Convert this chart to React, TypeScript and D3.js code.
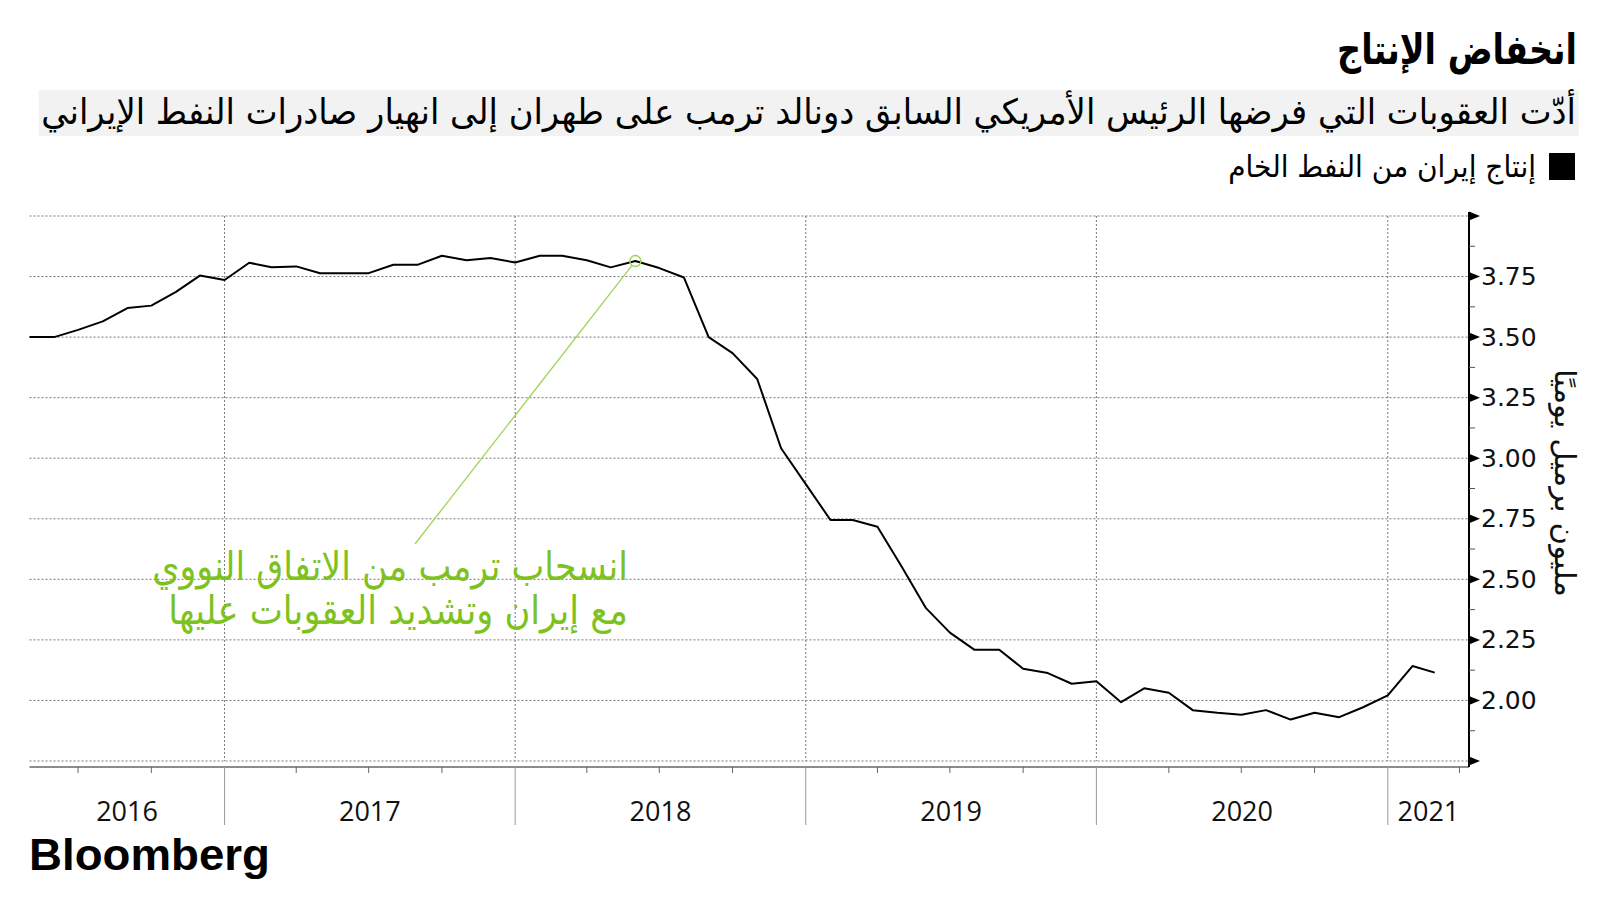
import React, { useLayoutEffect, useRef, useState } from "react";
import * as d3 from "d3";

const months: string[] = [
  "2016-04","2016-05","2016-06","2016-07","2016-08","2016-09","2016-10","2016-11","2016-12",
  "2017-01","2017-02","2017-03","2017-04","2017-05","2017-06","2017-07","2017-08","2017-09","2017-10","2017-11","2017-12",
  "2018-01","2018-02","2018-03","2018-04","2018-05","2018-06","2018-07","2018-08","2018-09","2018-10","2018-11","2018-12",
  "2019-01","2019-02","2019-03","2019-04","2019-05","2019-06","2019-07","2019-08","2019-09","2019-10","2019-11","2019-12",
  "2020-01","2020-02","2020-03","2020-04","2020-05","2020-06","2020-07","2020-08","2020-09","2020-10","2020-11","2020-12",
  "2021-01","2021-02",
];
const production: number[] = [
  3.50, 3.50, 3.53, 3.565, 3.62, 3.63, 3.687, 3.754, 3.736,
  3.807, 3.788, 3.792, 3.764, 3.764, 3.764, 3.799, 3.799, 3.836, 3.817, 3.827, 3.808,
  3.836, 3.836, 3.817, 3.788, 3.814, 3.785, 3.746, 3.50, 3.434, 3.327, 3.041, 2.893,
  2.745, 2.745, 2.717, 2.555, 2.381, 2.28, 2.209, 2.209, 2.131, 2.113, 2.069, 2.079,
  1.993, 2.05, 2.032, 1.96, 1.949, 1.941, 1.96, 1.921, 1.949, 1.931, 1.972, 2.021,
  2.142, 2.115,
];
const yTicks: number[] = [1.75, 2.0, 2.25, 2.5, 2.75, 3.0, 3.25, 3.5, 3.75, 4.0];
const yLabels: string[] = ["", "2.00", "2.25", "2.50", "2.75", "3.00", "3.25", "3.50", "3.75", ""];
const yearLabels: string[] = ["2016", "2017", "2018", "2019", "2020", "2021"];
const eventMonth = "2018-05";

const title = "انخفاض الإنتاج";
const subtitle = "أدّت العقوبات التي فرضها الرئيس الأمريكي السابق دونالد ترمب على طهران إلى انهيار صادرات النفط الإيراني";
const legendLabel = "إنتاج إيران من النفط الخام";
const yTitle = "مليون برميل يوميًا";
const noteLines: string[] = ["انسحاب ترمب من الاتفاق النووي", "مع إيران وتشديد العقوبات عليها"];

const parseMonth = d3.timeParse("%Y-%m");
// monthly values plotted at month end (start of next month)
const toDate = (m: string) => d3.timeMonth.offset(parseMonth(m) as Date, 1);

type FitProps = {
  x: number;
  y: number;
  width: number;
  anchor?: string;
  rotate?: number;
  children: string;
  [k: string]: any;
};

function FitText({ x, y, width, anchor = "end", rotate = 0, children, ...rest }: FitProps) {
  const ref = useRef<SVGTextElement>(null);
  const [s, setS] = useState(1);
  useLayoutEffect(() => {
    if (ref.current) {
      const w = ref.current.getComputedTextLength();
      if (w > 0) setS(width / w);
    }
  }, [children, width]);
  return (
    <text ref={ref} transform={`translate(${x},${y}) rotate(${rotate}) scale(${s},1)`} textAnchor={anchor} {...rest}>
      {children}
    </text>
  );
}

export default function App() {
  const left = 29.5;
  const right = 1469;
  const top = 216;
  const bottom = 761;
  const axisY = 767;

  const x = d3.scaleTime()
    .domain([new Date(2016, 4, 1), new Date(2021, 3, 13)])
    .range([left, right]);
  const y = d3.scaleLinear().domain([1.75, 4.0]).range([bottom, top]);

  const data = months.map((m, i) => ({ d: toDate(m), v: production[i] }));
  const line = d3.line<{ d: Date; v: number }>().x((p) => x(p.d)).y((p) => y(p.v));

  const yearStarts = [2017, 2018, 2019, 2020, 2021].map((yr) => new Date(yr, 0, 1));
  const bounds = [x.domain()[0], ...yearStarts, x.domain()[1]];
  const quarterTicks = d3.timeMonth
    .every(3)!
    .range(x.domain()[0], x.domain()[1])
    .filter((d) => d.getMonth() !== 0);
  const minorY = d3.range(1.875, 4.0, 0.25);

  const ev = data[months.indexOf(eventMonth)];
  const cx = x(ev.d);
  const cy = y(ev.v);
  const lx = 415;
  const ly = 544;
  const ang = Math.atan2(ly - cy, lx - cx);
  const r = 5.5;

  const green = "#7dc21e";
  const arabic = "'DejaVu Sans', 'Noto Sans', sans-serif";

  return (
    <svg width={1600} height={900} style={{ position: "absolute", left: 0, top: 0, background: "#fff" }}>
      <rect x={0} y={0} width={1600} height={900} fill="#fff" />
      {/* Title */}
      <FitText x={1577} y={64} width={240} fontFamily={arabic} fontWeight="bold" fontSize={42} fill="#000">{title}</FitText>
      {/* Subtitle */}
      <rect x={38.8} y={90} width={1540} height={46} fill="#f2f2f2" />
      <FitText x={1576} y={124} width={1535} fontFamily={arabic} fontSize={35} fill="#000">{subtitle}</FitText>
      {/* Legend */}
      <rect x={1549} y={153} width={26} height={27} fill="#000" />
      <FitText x={1536} y={177} width={308} fontFamily={arabic} fontSize={30} fill="#000">{legendLabel}</FitText>

      {/* Horizontal gridlines */}
      {yTicks.map((t) => (
        <line key={"h" + t} x1={left} x2={right} y1={y(t)} y2={y(t)}
          stroke="#777" strokeWidth={1} strokeDasharray="2,2" />
      ))}
      {/* Vertical year gridlines */}
      {yearStarts.map((d) => (
        <line key={"v" + d.getFullYear()} x1={x(d)} x2={x(d)} y1={top} y2={bottom}
          stroke="#777" strokeWidth={1} strokeDasharray="2,2" />
      ))}

      {/* X axis */}
      <line x1={left} x2={right} y1={axisY} y2={axisY} stroke="#666" strokeWidth={1.5} />
      {quarterTicks.map((d) => (
        <line key={"q" + d.getTime()} x1={x(d)} x2={x(d)} y1={axisY} y2={axisY + 6} stroke="#666" strokeWidth={1} />
      ))}
      {yearStarts.map((d) => (
        <line key={"ys" + d.getFullYear()} x1={x(d)} x2={x(d)} y1={axisY} y2={825} stroke="#999" strokeWidth={1} />
      ))}
      {yearLabels.map((lab, i) => (
        <text key={lab} x={(x(bounds[i]) + x(bounds[i + 1])) / 2} y={821} textAnchor="middle"
          fontFamily="'Open Sans', sans-serif" fontSize={27} fill="#111">{lab}</text>
      ))}

      {/* Y axis */}
      <line x1={right} x2={right} y1={212} y2={axisY} stroke="#000" strokeWidth={2} />
      {yTicks.map((t) => (
        <path key={"tri" + t} d={`M${right},${y(t) - 4.5}L${right + 11},${y(t)}L${right},${y(t) + 4.5}Z`} fill="#000" />
      ))}
      {minorY.map((t) => (
        <line key={"m" + t} x1={right} x2={right + 6} y1={y(t)} y2={y(t)} stroke="#555" strokeWidth={1} />
      ))}
      {yTicks.map((t, i) => (
        <text key={"yl" + t} x={1481} y={y(t)} dominantBaseline="central"
          fontFamily="'DejaVu Sans', sans-serif" fontSize={25} fill="#111">{yLabels[i]}</text>
      ))}
      <FitText x={1565} y={483} rotate={90} width={228} anchor="middle" dominantBaseline="central"
        fontFamily={arabic} fontSize={29} fill="#111">{yTitle}</FitText>

      {/* Series */}
      <path d={line(data) || ""} fill="none" stroke="#000" strokeWidth={2} strokeLinejoin="round" />

      {/* Annotation */}
      <line x1={cx + r * Math.cos(ang)} y1={cy + r * Math.sin(ang)} x2={lx} y2={ly} stroke="#9fd35a" strokeWidth={1.3} />
      <circle cx={cx} cy={cy} r={r} fill="none" stroke="#9fd35a" strokeWidth={1.5} />
      <FitText x={628} y={580} width={476} fontFamily={arabic} fontSize={40} fill={green}>{noteLines[0]}</FitText>
      <FitText x={628} y={624} width={460} fontFamily={arabic} fontSize={40} fill={green}>{noteLines[1]}</FitText>

      {/* Logo */}
      <FitText x={29} y={870} width={241} anchor="start" fontFamily="'Liberation Sans', Arial, sans-serif"
        fontWeight="bold" fontSize={45} fill="#000">Bloomberg</FitText>
    </svg>
  );
}
